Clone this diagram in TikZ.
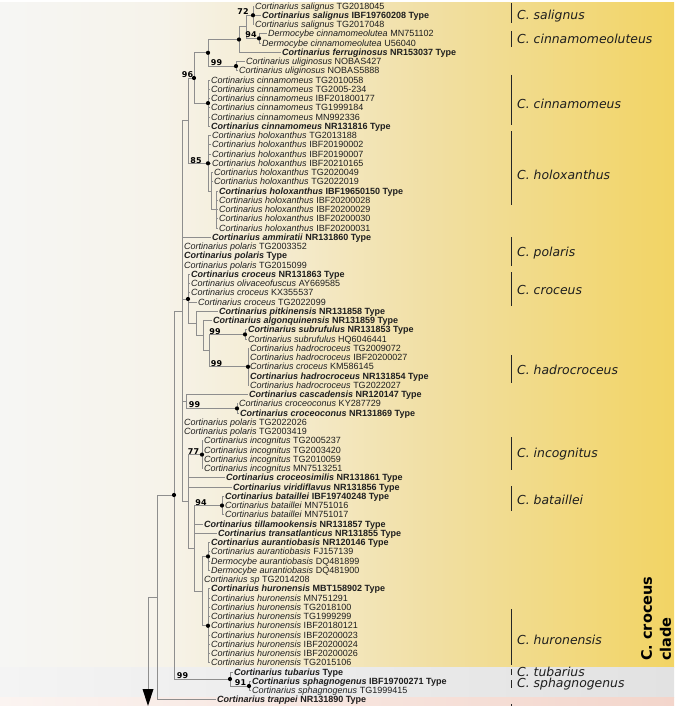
\documentclass[tikz,border=0pt]{standalone}
\usepackage{fontspec}
\setmainfont{Liberation Sans}
\newfontfamily\dvs{DejaVu Sans}
\definecolor{brc}{HTML}{8E8E8E}
\definecolor{txc}{HTML}{1E1E1E}
\definecolor{bgA}{HTML}{F6F6F4}
\definecolor{bgB}{HTML}{F6F3EA}
\definecolor{bgC}{HTML}{F4EACB}
\definecolor{bgD}{HTML}{F1DFA3}
\definecolor{bgE}{HTML}{F2D464}
\definecolor{grA}{HTML}{F4F4F4}
\definecolor{grB}{HTML}{E2E2E2}
\definecolor{pkA}{HTML}{FBF4F1}
\definecolor{pkB}{HTML}{F3D5CB}
\pgfdeclarehorizontalshading{yelshade}{100bp}{color(0bp)=(bgA); color(25bp)=(bgA); color(37bp)=(bgB); color(47bp)=(bgC); color(57bp)=(bgD); color(75bp)=(bgE); color(100bp)=(bgE)}
\newcommand{\tipR}[2]{\textit{#1} #2}
\newcommand{\tipB}[2]{\textbf{\textit{#1} #2}}
\tikzset{
  tip/.style={anchor=west, inner sep=0pt, text=txc, font=\fontsize{9}{9}\selectfont, text height=6.4pt, text depth=0pt},
  suplbl/.style={inner sep=0pt, text=black, font=\dvs\bfseries\fontsize{8}{8}\selectfont, text height=5.8pt, text depth=0pt},
  cladl/.style={anchor=west, inner sep=0pt, text=txc, font=\dvs\itshape\fontsize{12.4}{12.4}\selectfont, text height=9pt, text depth=0pt},
  br/.style={draw=brc, line width=0.8pt},
  bar/.style={draw=black!85, line width=1pt},
}
\begin{document}
\begin{tikzpicture}[x=1pt,y=-1pt]
\useasboundingbox (0,0) rectangle (676,706);
% backgrounds
\shade[shading=yelshade] (0,3) rectangle (674,667);
\shade[left color=grA, right color=grB] (0,667) rectangle (674,697);
\shade[left color=pkA, right color=pkB] (0,697) rectangle (674,706);

% internal nodes
\coordinate (nsal) at (253,15.25);
\coordinate (nderm) at (259,38.4);
\coordinate (nY) at (246,26.8);
\coordinate (nX) at (239,39.5);
\coordinate (nuli) at (236,66.1);
\coordinate (nZ) at (208,52.8);
\coordinate (ncinn) at (208,103.1);
\coordinate (n96) at (194,78);
\coordinate (nB) at (216,209.5);
\coordinate (nA) at (211,191);
\coordinate (nholox) at (208,163.3);
\coordinate (ntop) at (188,120.6);
\coordinate (nsub) at (245,334.4);
\coordinate (nhad) at (248,366.75);
\coordinate (n209) at (209,350.6);
\coordinate (nalg) at (203,335.5);
\coordinate (npit) at (196,323.4);
\coordinate (ncroc) at (188,299);
\coordinate (ncon) at (237,408.4);
\coordinate (ncasc) at (186,401.4);
\coordinate (ninc) at (202,454.6);
\coordinate (nbat) at (222,505.5);
\coordinate (naur) at (208,556.4);
\coordinate (nhur) at (208,625.75);
\coordinate (n202) at (202,591.1);
\coordinate (n194) at (194,548.3);
\coordinate (n188) at (188,501.5);
\coordinate (n182) at (182,311);
\coordinate (nsph) at (249,686);
\coordinate (ntub) at (230,679);
\coordinate (n174) at (174,495);
\coordinate (n157) at (157,597.4);
\coordinate (n148) at (148,597.4);
\coordinate (arrowtop) at (148,689);

% tips
\node[tip] (t1) at (255,6) {\tipR{Cortinarius salignus}{TG2018045}};
\node[tip] (t2) at (262,15.25) {\tipB{Cortinarius salignus}{IBF19760208 Type}};
\node[tip] (t3) at (255,24.5) {\tipR{Cortinarius salignus}{TG2017048}};
\node[tip] (t4) at (268,33.75) {\tipR{Dermocybe cinnamomeolutea}{MN751102}};
\node[tip] (t5) at (262,43) {\tipR{Dermocybe cinnamomeolutea}{U56040}};
\node[tip] (t6) at (282,52.25) {\tipB{Cortinarius ferruginosus}{NR153037 Type}};
\node[tip] (t7) at (246,61.5) {\tipR{Cortinarius uliginosus}{NOBAS427}};
\node[tip] (t8) at (239,70.75) {\tipR{Cortinarius uliginosus}{NOBAS5888}};
\node[tip] (t9) at (211,80) {\tipR{Cortinarius cinnamomeus}{TG2010058}};
\node[tip] (t10) at (211,89.25) {\tipR{Cortinarius cinnamomeus}{TG2005-234}};
\node[tip] (t11) at (211,98.5) {\tipR{Cortinarius cinnamomeus}{IBF201800177}};
\node[tip] (t12) at (211,107.75) {\tipR{Cortinarius cinnamomeus}{TG1999184}};
\node[tip] (t13) at (211,117) {\tipR{Cortinarius cinnamomeus}{MN992336}};
\node[tip] (t14) at (211,126.25) {\tipB{Cortinarius cinnamomeus}{NR131816 Type}};
\node[tip] (t15) at (212,135.5) {\tipR{Cortinarius holoxanthus}{TG2013188}};
\node[tip] (t16) at (212,144.75) {\tipR{Cortinarius holoxanthus}{IBF20190002}};
\node[tip] (t17) at (212,154) {\tipR{Cortinarius holoxanthus}{IBF20190007}};
\node[tip] (t18) at (212,163.25) {\tipR{Cortinarius holoxanthus}{IBF20210165}};
\node[tip] (t19) at (214,172.5) {\tipR{Cortinarius holoxanthus}{TG2020049}};
\node[tip] (t20) at (214,181.75) {\tipR{Cortinarius holoxanthus}{TG2022019}};
\node[tip] (t21) at (219,191) {\tipB{Cortinarius holoxanthus}{IBF19650150 Type}};
\node[tip] (t22) at (219,200.25) {\tipR{Cortinarius holoxanthus}{IBF20200028}};
\node[tip] (t23) at (219,209.5) {\tipR{Cortinarius holoxanthus}{IBF20200029}};
\node[tip] (t24) at (219,218.75) {\tipR{Cortinarius holoxanthus}{IBF20200030}};
\node[tip] (t25) at (219,228) {\tipR{Cortinarius holoxanthus}{IBF20200031}};
\node[tip] (t26) at (212,237.25) {\tipB{Cortinarius ammiratii}{NR131860 Type}};
\node[tip] (t27) at (184,246.5) {\tipR{Cortinarius polaris}{TG2003352}};
\node[tip] (t28) at (184,255.75) {\tipB{Cortinarius polaris}{Type}};
\node[tip] (t29) at (184,265) {\tipR{Cortinarius polaris}{TG2015099}};
\node[tip] (t30) at (191,274.25) {\tipB{Cortinarius croceus}{NR131863 Type}};
\node[tip] (t31) at (191,283.5) {\tipR{Cortinarius olivaceofuscus}{AY669585}};
\node[tip] (t32) at (191,292.75) {\tipR{Cortinarius croceus}{KX355537}};
\node[tip] (t33) at (198,302) {\tipR{Cortinarius croceus}{TG2022099}};
\node[tip] (t34) at (219,311.25) {\tipB{Cortinarius pitkinensis}{NR131858 Type}};
\node[tip] (t35) at (213,320.5) {\tipB{Cortinarius algonquinensis}{NR131859 Type}};
\node[tip] (t36) at (248,329.75) {\tipB{Cortinarius subrufulus}{NR131853 Type}};
\node[tip] (t37) at (248,339) {\tipR{Cortinarius subrufulus}{HQ6046441}};
\node[tip] (t38) at (250,348.25) {\tipR{Cortinarius hadrocroceus}{TG2009072}};
\node[tip] (t39) at (250,357.5) {\tipR{Cortinarius hadrocroceus}{IBF20200027}};
\node[tip] (t40) at (250,366.75) {\tipR{Cortinarius croceus}{KM586145}};
\node[tip] (t41) at (250,376) {\tipB{Cortinarius hadrocroceus}{NR131854 Type}};
\node[tip] (t42) at (250,385.25) {\tipR{Cortinarius hadrocroceus}{TG2022027}};
\node[tip] (t43) at (249,394.5) {\tipB{Cortinarius cascadensis}{NR120147 Type}};
\node[tip] (t44) at (239,403.75) {\tipR{Cortinarius croceoconus}{KY287729}};
\node[tip] (t45) at (240,413) {\tipB{Cortinarius croceoconus}{NR131869 Type}};
\node[tip] (t46) at (184,422.25) {\tipR{Cortinarius polaris}{TG2022026}};
\node[tip] (t47) at (184,431.5) {\tipR{Cortinarius polaris}{TG2003419}};
\node[tip] (t48) at (204,440.75) {\tipR{Cortinarius incognitus}{TG2005237}};
\node[tip] (t49) at (204,450) {\tipR{Cortinarius incognitus}{TG2003420}};
\node[tip] (t50) at (204,459.25) {\tipR{Cortinarius incognitus}{TG2010059}};
\node[tip] (t51) at (204,468.5) {\tipR{Cortinarius incognitus}{MN7513251}};
\node[tip] (t52) at (226,477.75) {\tipB{Cortinarius croceosimilis}{NR131861 Type}};
\node[tip] (t53) at (233,487) {\tipB{Cortinarius viridiflavus}{NR131856 Type}};
\node[tip] (t54) at (225,496.25) {\tipB{Cortinarius bataillei}{IBF19740248 Type}};
\node[tip] (t55) at (225,505.5) {\tipR{Cortinarius bataillei}{MN751016}};
\node[tip] (t56) at (225,514.75) {\tipR{Cortinarius bataillei}{MN751017}};
\node[tip] (t57) at (204,524) {\tipB{Cortinarius tillamookensis}{NR131857 Type}};
\node[tip] (t58) at (218,533.25) {\tipB{Cortinarius transatlanticus}{NR131855 Type}};
\node[tip] (t59) at (211,542.5) {\tipB{Cortinarius aurantiobasis}{NR120146 Type}};
\node[tip] (t60) at (211,551.75) {\tipR{Cortinarius aurantiobasis}{FJ157139}};
\node[tip] (t61) at (211,561) {\tipR{Dermocybe aurantiobasis}{DQ481899}};
\node[tip] (t62) at (211,570.25) {\tipR{Dermocybe aurantiobasis}{DQ481900}};
\node[tip] (t63) at (204,579.5) {\tipR{Cortinarius sp}{TG2014208}};
\node[tip] (t64) at (211,588.75) {\tipB{Cortinarius huronensis}{MBT158902 Type}};
\node[tip] (t65) at (211,598) {\tipR{Cortinarius huronensis}{MN751291}};
\node[tip] (t66) at (211,607.25) {\tipR{Cortinarius huronensis}{TG2018100}};
\node[tip] (t67) at (211,616.5) {\tipR{Cortinarius huronensis}{TG1999299}};
\node[tip] (t68) at (211,625.75) {\tipR{Cortinarius huronensis}{IBF20180121}};
\node[tip] (t69) at (211,635) {\tipR{Cortinarius huronensis}{IBF20200023}};
\node[tip] (t70) at (211,644.25) {\tipR{Cortinarius huronensis}{IBF20200024}};
\node[tip] (t71) at (211,653.5) {\tipR{Cortinarius huronensis}{IBF20200026}};
\node[tip] (t72) at (211,662.75) {\tipR{Cortinarius huronensis}{TG2015106}};
\node[tip] (t73) at (234,672) {\tipB{Cortinarius tubarius}{Type}};
\node[tip] (t74) at (252,681.25) {\tipB{Cortinarius sphagnogenus}{IBF19700271 Type}};
\node[tip] (t75) at (252,690.5) {\tipR{Cortinarius sphagnogenus}{TG1999415}};
\node[tip] (t76) at (217,699.75) {\tipB{Cortinarius trappei}{NR131890 Type}};

% branches to tips
\foreach \p/\c in {nsal/t1,nsal/t2,nsal/t3,nderm/t4,nderm/t5,nX/t6,nuli/t7,nuli/t8,
  ncinn/t9,ncinn/t10,ncinn/t11,ncinn/t12,ncinn/t13,ncinn/t14,
  nholox/t15,nholox/t16,nholox/t17,nholox/t18,nA/t19,nA/t20,
  nB/t21,nB/t22,nB/t23,nB/t24,nB/t25,
  n182/t26,n182/t27,n182/t28,n182/t29,
  ncroc/t30,ncroc/t31,ncroc/t32,ncroc/t33,npit/t34,nalg/t35,nsub/t36,nsub/t37,
  nhad/t38,nhad/t39,nhad/t40,nhad/t41,nhad/t42,ncasc/t43,ncon/t44,ncon/t45,
  n182/t46,n182/t47,ninc/t48,ninc/t49,ninc/t50,ninc/t51,n188/t52,n188/t53,
  nbat/t54,nbat/t55,nbat/t56,n194/t57,n194/t58,
  naur/t59,naur/t60,naur/t61,naur/t62,n202/t63,
  nhur/t64,nhur/t65,nhur/t66,nhur/t67,nhur/t68,nhur/t69,nhur/t70,nhur/t71,nhur/t72,
  ntub/t73,nsph/t74,nsph/t75,n157/t76}
  \draw[br] (\p) |- ([xshift=-1pt]\c.west);
% internal branches
\foreach \p/\c in {nY/nsal,nY/nderm,nX/nY,nZ/nX,nZ/nuli,n96/nZ,n96/ncinn,
  nA/nB,nholox/nA,ntop/n96,ntop/nholox,n209/nsub,n209/nhad,nalg/n209,npit/nalg,
  ncroc/npit,ncasc/ncon,n202/naur,n202/nhur,n194/nbat,n194/n202,n188/ninc,n188/n194,
  n182/ntop,n182/ncroc,n182/ncasc,n182/n188,ntub/nsph,n174/n182,n174/ntub,
  n157/n174,n148/n157}
  \draw[br] (\p) |- (\c);
\draw[br] (n148) -- (arrowtop);
\fill[black] ([xshift=-5.5pt]arrowtop) -- ([xshift=5.5pt]arrowtop) -- ([yshift=-17pt]arrowtop) -- cycle;

% support dots
\foreach \n in {nsal,nderm,nX,nuli,nZ,ncinn,n96,nholox,ncroc,nsub,nhad,ncon,ninc,nbat,naur,nhur,nsph,ntub,n174}
  \fill[black] (\n) circle (2.1pt);

% support values
\node[suplbl] (l72) at (243,12) {72};
\node[suplbl] (l94a) at (251,35) {94};
\node[suplbl] (l99a) at (216.5,63) {99};
\node[suplbl] (l96) at (187.5,75) {96};
\node[suplbl] (l85) at (196,160.5) {85};
\node[suplbl] (l99b) at (215,331.5) {99};
\node[suplbl] (l99c) at (216.5,363.5) {99};
\node[suplbl] (l99d) at (194.5,404.5) {99};
\node[suplbl] (l77) at (193.5,451.5) {77};
\node[suplbl] (l94b) at (201,502.5) {94};
\node[suplbl] (l99e) at (182.5,675.5) {99};
\node[suplbl] (l91) at (240.5,683) {91};

% clade bars and labels
\draw[bar] (511,3) -- (511,23);
\draw[bar] (511,31) -- (511,47);
\draw[bar] (511,75) -- (511,125);
\draw[bar] (511,131) -- (511,205);
\draw[bar] (511,237) -- (511,266);
\draw[bar] (511,272) -- (511,306);
\draw[bar] (511,355) -- (511,383);
\draw[bar] (511,437) -- (511,470);
\draw[bar] (511,486) -- (511,511);
\draw[bar] (511,609) -- (511,665);
\draw[bar] (511,669) -- (511,675);
\draw[bar] (511,680) -- (511,688);
\draw[bar] (511,704) -- (511,706);
\node[cladl] (csal) at (517,15.5) {C. salignus};
\node[cladl] (ccinl) at (517,39) {C. cinnamomeoluteus};
\node[cladl] (ccin) at (517,104) {C. cinnamomeus};
\node[cladl] (chol) at (517,175) {C. holoxanthus};
\node[cladl] (cpol) at (517,252) {C. polaris};
\node[cladl] (ccro) at (517,290) {C. croceus};
\node[cladl] (chad) at (517,370) {C. hadrocroceus};
\node[cladl] (cinc) at (517,453) {C. incognitus};
\node[cladl] (cbat) at (517,500) {C. bataillei};
\node[cladl] (chur) at (517,640) {C. huronensis};
\node[cladl] (ctub) at (517,672) {C. tubarius};
\node[cladl] (csph) at (517,683) {C. sphagnogenus};
\node[rotate=90, anchor=north west, align=left, inner sep=0pt, text=black,
  font=\dvs\bfseries\fontsize{14.5}{19}\selectfont] (cladelbl) at (641,661) {C. croceus\\clade};
\end{tikzpicture}
\end{document}
